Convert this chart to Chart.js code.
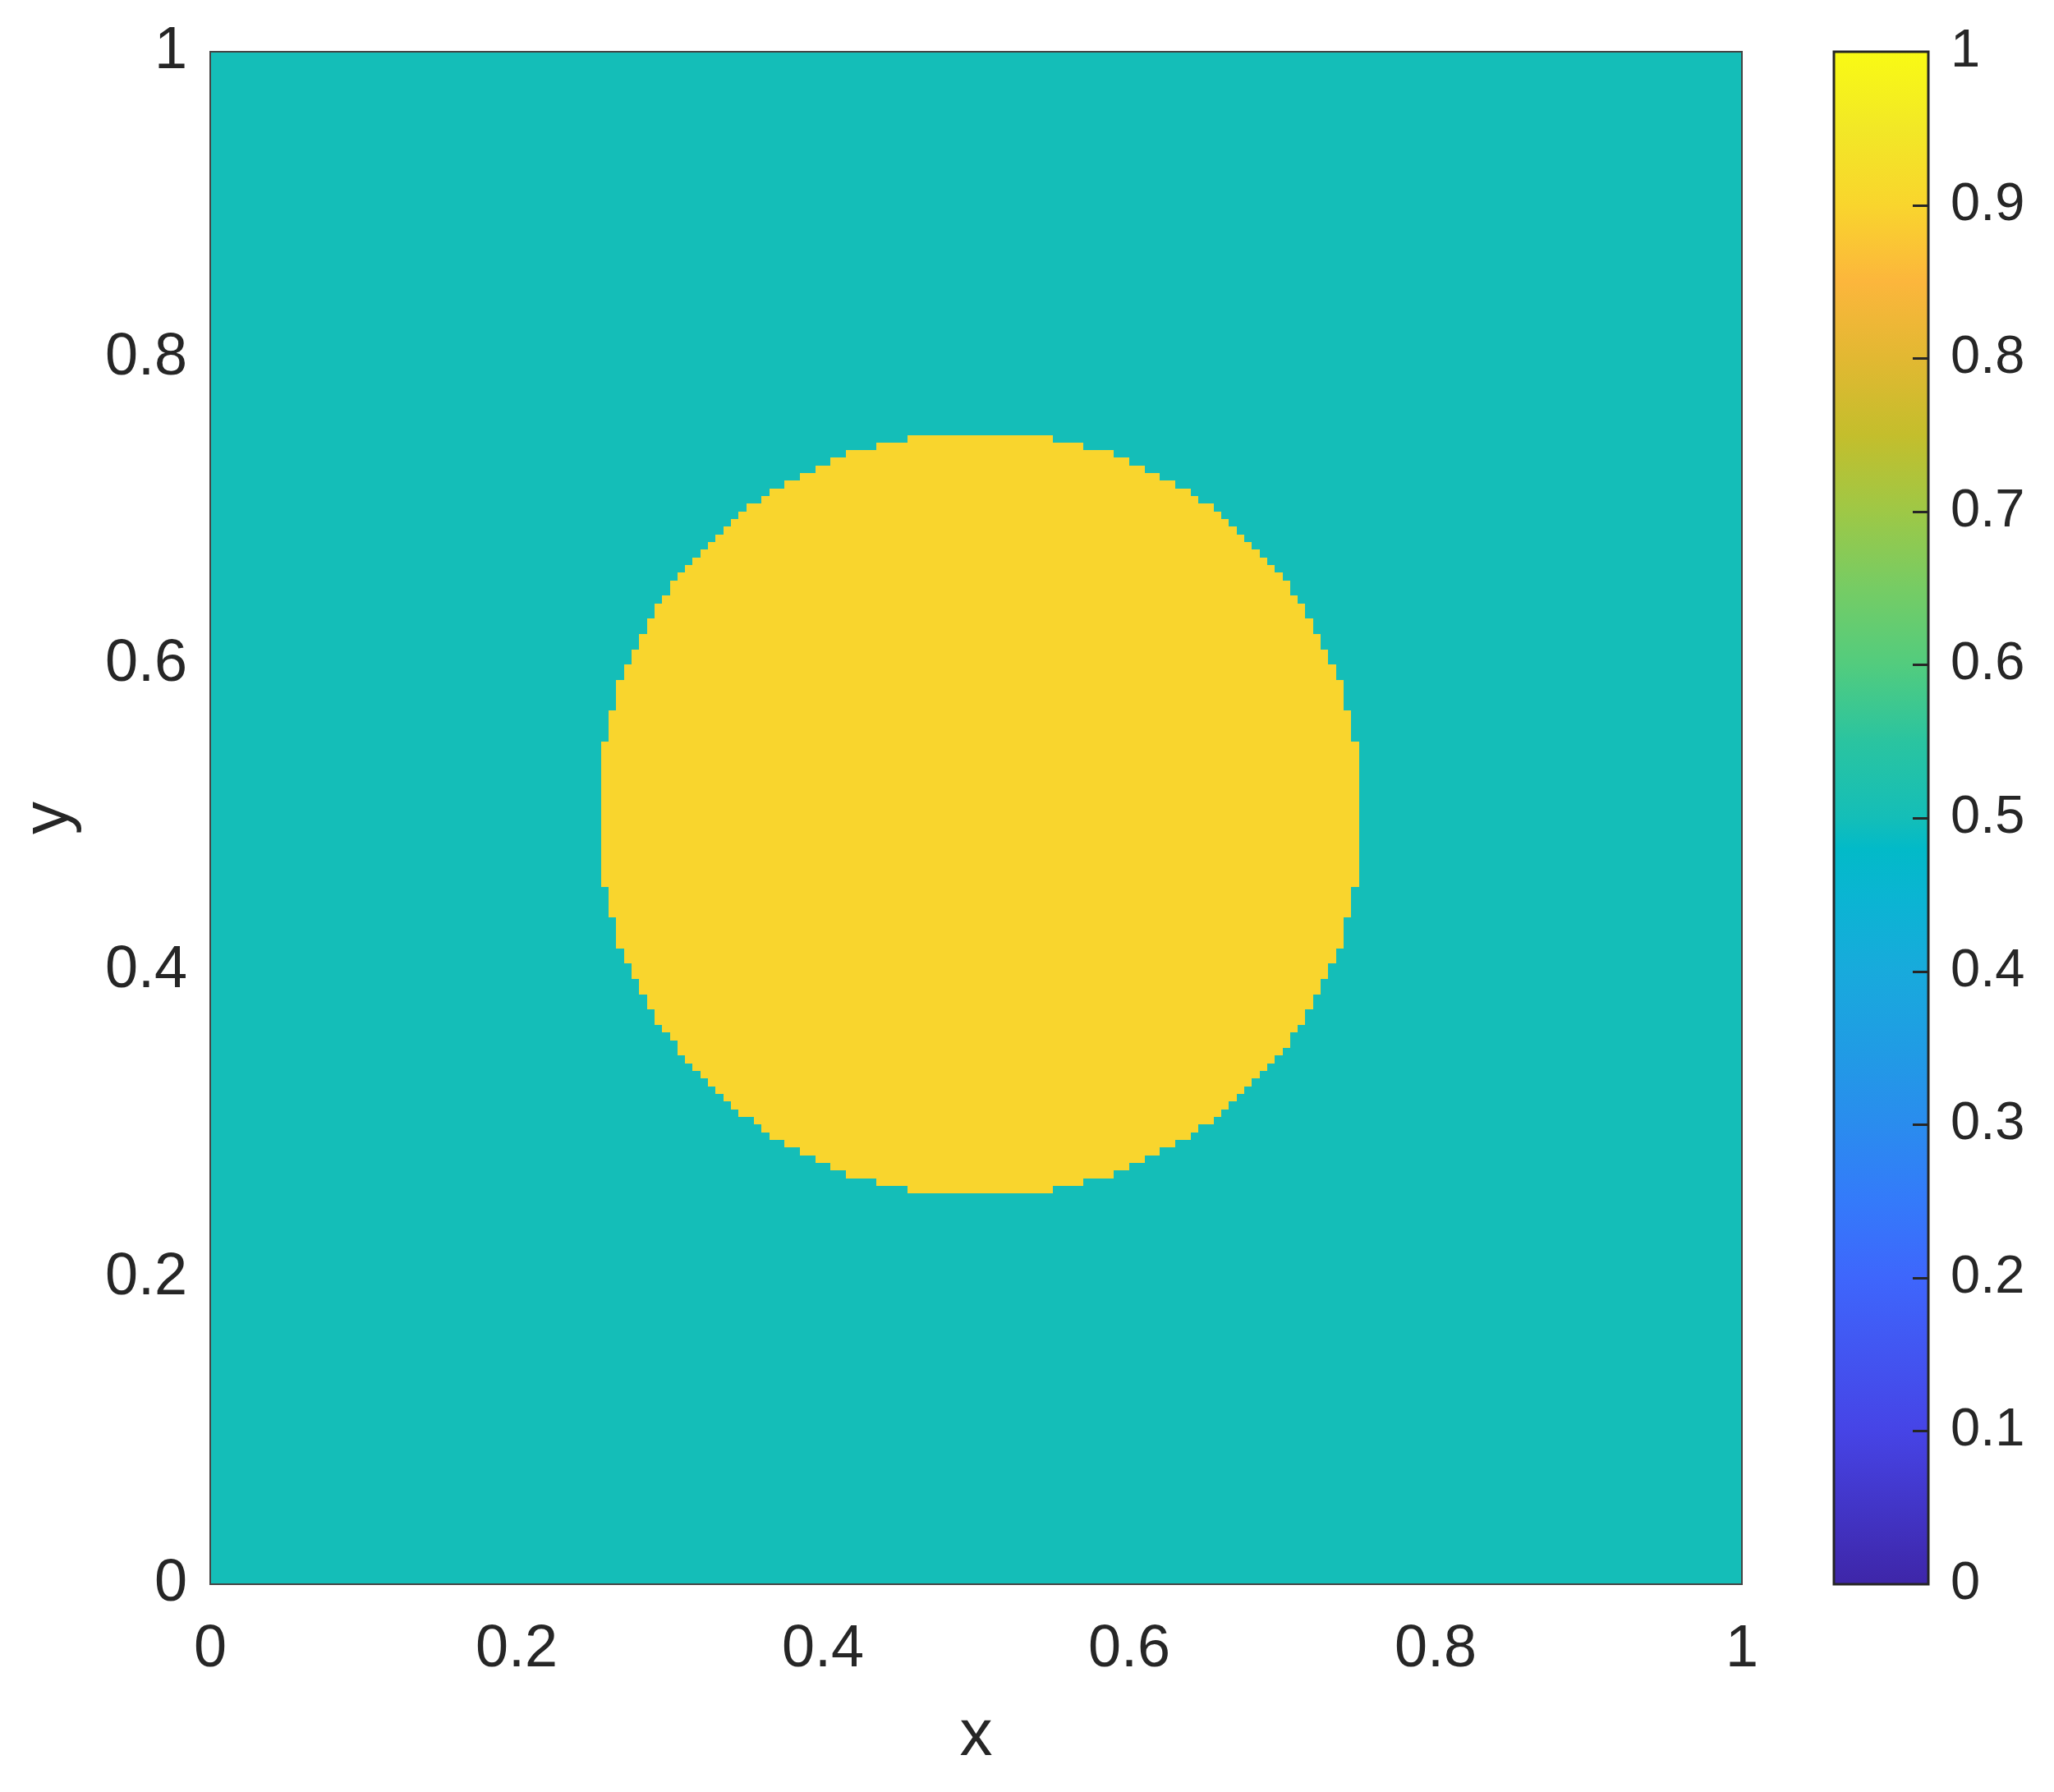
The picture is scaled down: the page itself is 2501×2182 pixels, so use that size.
<!DOCTYPE html>
<html>
<head>
<meta charset="utf-8">
<script src="https://cdn.jsdelivr.net/npm/chart.js@4.4.1/dist/chart.umd.min.js"></script>
<style>
  html, body { margin: 0; padding: 0; background: #fff; }
</style>
</head>
<body>
<canvas id="chart" width="2501" height="2182"></canvas>
<script>
// field value outside / inside the drop
const outsideValue = 0.5;
const insideValue = 0.9;
const cellSize = 0.005;

const rowY = [
  0.255, 0.26, 0.265, 0.27, 0.275, 0.28, 0.285, 0.29, 0.295, 0.30,
  0.305, 0.31, 0.315, 0.32, 0.325, 0.33, 0.335, 0.34, 0.345, 0.35,
  0.355, 0.36, 0.365, 0.37, 0.375, 0.38, 0.385, 0.39, 0.395, 0.40,
  0.405, 0.41, 0.415, 0.42, 0.425, 0.43, 0.435, 0.44, 0.445, 0.45,
  0.455, 0.46, 0.465, 0.47, 0.475, 0.48, 0.485, 0.49, 0.495, 0.50,
  0.505, 0.51, 0.515, 0.52, 0.525, 0.53, 0.535, 0.54, 0.545, 0.55,
  0.555, 0.56, 0.565, 0.57, 0.575, 0.58, 0.585, 0.59, 0.595, 0.60,
  0.605, 0.61, 0.615, 0.62, 0.625, 0.63, 0.635, 0.64, 0.645, 0.65,
  0.655, 0.66, 0.665, 0.67, 0.675, 0.68, 0.685, 0.69, 0.695, 0.70,
  0.705, 0.71, 0.715, 0.72, 0.725, 0.73, 0.735, 0.74, 0.745
];
// left edge of the drop on each row
const rowStart = [
  0.455, 0.435, 0.415, 0.405, 0.395, 0.385, 0.375, 0.365, 0.36, 0.355,
  0.345, 0.34, 0.335, 0.33, 0.325, 0.32, 0.315, 0.31, 0.305, 0.305,
  0.30, 0.295, 0.29, 0.29, 0.285, 0.285, 0.28, 0.28, 0.275, 0.275,
  0.27, 0.27, 0.265, 0.265, 0.265, 0.265, 0.26, 0.26, 0.26, 0.26,
  0.255, 0.255, 0.255, 0.255, 0.255, 0.255, 0.255, 0.255, 0.255, 0.255,
  0.255, 0.255, 0.255, 0.255, 0.255, 0.255, 0.255, 0.255, 0.255,
  0.26, 0.26, 0.26, 0.26, 0.265, 0.265, 0.265, 0.265, 0.27, 0.27,
  0.275, 0.275, 0.28, 0.28, 0.285, 0.285, 0.29, 0.29, 0.295, 0.30,
  0.30, 0.305, 0.31, 0.315, 0.32, 0.325, 0.33, 0.335, 0.34, 0.345,
  0.35, 0.36, 0.365, 0.375, 0.385, 0.395, 0.405, 0.415, 0.435, 0.455
];
// right edge of the drop on each row
const rowEnd = [
  0.55, 0.57, 0.59, 0.60, 0.61, 0.62, 0.63, 0.64, 0.645, 0.655,
  0.66, 0.665, 0.67, 0.675, 0.68, 0.685, 0.69, 0.695, 0.70, 0.705,
  0.705, 0.71, 0.715, 0.715, 0.72, 0.72, 0.725, 0.725, 0.73, 0.73,
  0.735, 0.735, 0.74, 0.74, 0.74, 0.74, 0.745, 0.745, 0.745, 0.745,
  0.75, 0.75, 0.75, 0.75, 0.75, 0.75, 0.75, 0.75, 0.75, 0.75,
  0.75, 0.75, 0.75, 0.75, 0.75, 0.75, 0.75, 0.75, 0.75,
  0.745, 0.745, 0.745, 0.745, 0.74, 0.74, 0.74, 0.74, 0.735, 0.735,
  0.73, 0.73, 0.725, 0.725, 0.72, 0.72, 0.715, 0.715, 0.71, 0.705,
  0.705, 0.70, 0.695, 0.69, 0.685, 0.68, 0.675, 0.67, 0.665, 0.66,
  0.655, 0.645, 0.64, 0.63, 0.62, 0.61, 0.60, 0.59, 0.57, 0.55
];

// colormap, sampled from the colour bar
const cmapPos = [0, 0.1, 0.2, 0.25, 0.3, 0.35, 0.4, 0.45, 0.48, 0.5, 0.55, 0.6, 0.65, 0.7, 0.75, 0.8, 0.85, 0.9, 0.95, 1];
const cmapColors = [
  [62, 38, 168], [70, 68, 230], [62, 102, 252], [52, 122, 250], [42, 140, 238],
  [32, 156, 228], [24, 170, 220], [10, 181, 210], [2, 186, 200], [20, 190, 184],
  [42, 196, 160], [82, 204, 126], [118, 204, 100], [158, 200, 70], [196, 190, 44],
  [226, 184, 50], [252, 182, 60], [249, 213, 45], [242, 232, 38], [249, 250, 20]
];

const xTicks = [0, 0.2, 0.4, 0.6, 0.8, 1];
const yTicks = [0, 0.2, 0.4, 0.6, 0.8, 1];
const cbarTicks = [0, 0.1, 0.2, 0.3, 0.4, 0.5, 0.6, 0.7, 0.8, 0.9, 1];

function colorFor(v) {
  let i = 0;
  while (i < cmapPos.length - 2 && v > cmapPos[i + 1]) i++;
  const t = Math.min(1, Math.max(0, (v - cmapPos[i]) / (cmapPos[i + 1] - cmapPos[i])));
  const a = cmapColors[i], b = cmapColors[i + 1];
  const c = a.map((ch, k) => Math.round(ch + (b[k] - ch) * t));
  return `rgb(${c[0]}, ${c[1]}, ${c[2]})`;
}

// fixed box sizes, and no extra padding from the tick labels
const fixSize = (w, h) => s => {
  if (w) s.width = w;
  if (h) s.height = h;
  s.paddingTop = s.paddingBottom = s.paddingLeft = s.paddingRight = 0;
};

const textColor = '#262626';
Chart.defaults.font.family = '"Liberation Sans", Arial, sans-serif';
Chart.defaults.color = textColor;

const heatmap = {
  id: 'heatmap',
  beforeDatasetsDraw(chart) {
    const {ctx, scales: {x, y}} = chart;
    const px = v => Math.round(x.getPixelForValue(v));
    const py = v => Math.round(y.getPixelForValue(v));
    ctx.save();
    ctx.fillStyle = colorFor(outsideValue);
    ctx.fillRect(px(0), py(1), px(1) - px(0), py(0) - py(1));
    ctx.fillStyle = colorFor(insideValue);
    rowY.forEach((y0, i) => {
      const top = py(y0 + cellSize), bot = py(y0);
      ctx.fillRect(px(rowStart[i]), top, px(rowEnd[i]) - px(rowStart[i]), bot - top);
    });
    ctx.strokeStyle = '#444444';
    ctx.lineWidth = 2;
    ctx.strokeRect(px(0), py(1), px(1) - px(0), py(0) - py(1));
    ctx.restore();
  }
};

const colorbar = {
  id: 'colorbar',
  afterDraw(chart) {
    const {ctx, chartArea} = chart;
    const cb = chart.scales.cbar;
    const x0 = chartArea.right + 112, x1 = chartArea.right + 227;
    const yTop = cb.getPixelForValue(1), yBot = cb.getPixelForValue(0);
    ctx.save();
    const grad = ctx.createLinearGradient(0, yBot, 0, yTop);
    cmapPos.forEach(p => grad.addColorStop(p, colorFor(p)));
    ctx.fillStyle = grad;
    ctx.fillRect(x0, yTop, x1 - x0, yBot - yTop);
    ctx.strokeStyle = textColor;
    ctx.lineWidth = 3;
    cbarTicks.forEach(v => {
      if (v <= 0 || v >= 1) return;
      const yy = Math.round(cb.getPixelForValue(v)) + 0.5;
      ctx.beginPath();
      ctx.moveTo(x1 - 19, yy);
      ctx.lineTo(x1, yy);
      ctx.stroke();
    });
    ctx.strokeRect(x0, yTop, x1 - x0, yBot - yTop);
    ctx.restore();
  }
};

const label = v => String(v);

const ctx = document.getElementById('chart').getContext('2d');
new Chart(ctx, {
  type: 'scatter',
  data: { datasets: [] },
  options: {
    responsive: false,
    animation: false,
    layout: { padding: { top: 63, left: 0, right: 0, bottom: 0 } },
    plugins: { legend: { display: false }, tooltip: { enabled: false } },
    scales: {
      x: {
        type: 'linear', min: 0, max: 1,
        afterFit: fixSize(0, 253),
        afterBuildTicks: s => { s.ticks = xTicks.map(v => ({ value: v })); },
        grid: { display: false, drawTicks: false },
        border: { display: false },
        ticks: { font: { size: 72 }, padding: 37, maxRotation: 0, callback: label },
        title: { display: true, text: 'x', font: { size: 80 }, padding: { bottom: 19 } }
      },
      y: {
        type: 'linear', min: 0, max: 1,
        afterFit: fixSize(256, 0),
        afterBuildTicks: s => { s.ticks = yTicks.map(v => ({ value: v })); },
        grid: { display: false, drawTicks: false },
        border: { display: false },
        ticks: { font: { size: 72 }, padding: 28, callback: label },
        title: { display: true, text: 'y', font: { size: 80 }, padding: { top: 12 } }
      },
      cbar: {
        type: 'linear', position: 'right', min: 0, max: 1,
        afterFit: fixSize(380, 0),
        afterBuildTicks: s => { s.ticks = cbarTicks.map(v => ({ value: v })); },
        grid: { display: false, drawTicks: false },
        border: { display: false },
        ticks: { font: { size: 65 }, padding: 254, callback: label }
      }
    }
  },
  plugins: [heatmap, colorbar]
});
</script>
</body>
</html>
